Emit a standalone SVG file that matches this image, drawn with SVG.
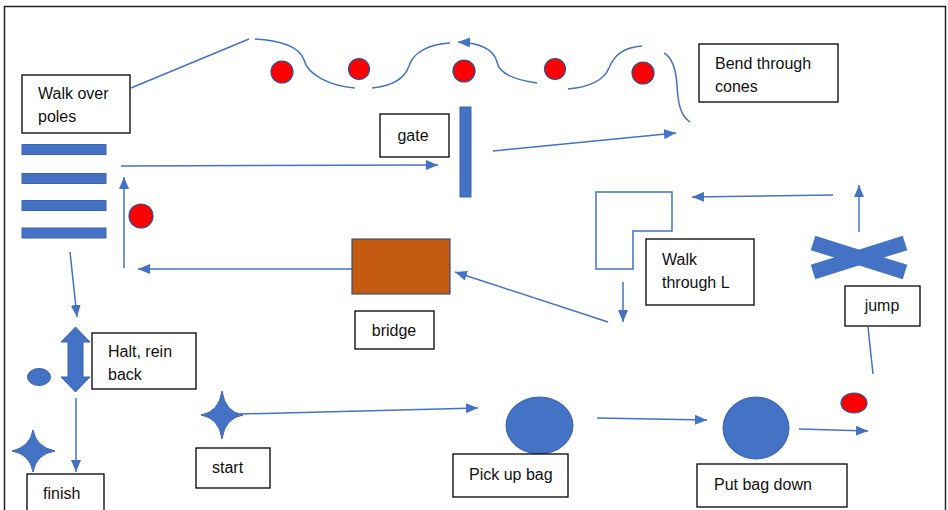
<svg xmlns="http://www.w3.org/2000/svg" width="948" height="510" viewBox="0 0 948 510">
<defs>
<style>
.bx{fill:#fff;stroke:#000;stroke-width:1.3}
.t{font-family:"Liberation Sans",Arial,sans-serif;font-size:16px;fill:#111}
.c{fill:none;stroke:#4472C4;stroke-width:1.5}
.sh{fill:#4472C4;stroke:#3A62AD;stroke-width:1}
.cone{fill:#FF0000;stroke:#2F528F;stroke-width:1.2}
</style>
<marker id="ah" viewBox="0 0 12 10" refX="12" refY="5" markerWidth="12" markerHeight="10" markerUnits="userSpaceOnUse" orient="auto">
<path d="M0,0 L12,5 L0,10 z" fill="#4472C4"/>
</marker>
</defs>
<rect x="0" y="0" width="948" height="510" fill="#fff"/>
<rect x="4.5" y="6.5" width="941" height="510" fill="none" stroke="#222" stroke-width="1.5"/>

<g id="connectors">
<line class="c" x1="131" y1="88" x2="249" y2="39"/>
<path class="c" d="M255,39 C280,40 300,47 304,60 C308,75 330,86 355,88"/>
<path class="c" d="M372,88 C392,86 405,78 409,66 C413,52 430,44 450,43"/>
<path class="c" d="M537,83 C515,80 499,73 497,62 C494,50 482,43 458,42" marker-end="url(#ah)"/>
<path class="c" d="M568,89 C590,87 604,80 609,68 C614,55 625,47 642,46"/>
<path class="c" d="M664,53 C673,58 676,70 677,85 C678,105 681,116 690,122"/>
<line class="c" x1="121" y1="166" x2="438" y2="165" marker-end="url(#ah)"/>
<line class="c" x1="493" y1="151" x2="676" y2="133" marker-end="url(#ah)"/>
<line class="c" x1="124" y1="268" x2="124" y2="177" marker-end="url(#ah)"/>
<line class="c" x1="352" y1="269" x2="138" y2="269" marker-end="url(#ah)"/>
<line class="c" x1="608" y1="322" x2="455" y2="272" marker-end="url(#ah)"/>
<line class="c" x1="623" y1="282" x2="623" y2="322" marker-end="url(#ah)"/>
<line class="c" x1="833" y1="195" x2="692" y2="197" marker-end="url(#ah)"/>
<line class="c" x1="859" y1="232" x2="859" y2="185" marker-end="url(#ah)"/>
<line class="c" x1="868" y1="327" x2="873" y2="374"/>
<line class="c" x1="799" y1="429" x2="868" y2="431" marker-end="url(#ah)"/>
<line class="c" x1="597" y1="418" x2="707" y2="420" marker-end="url(#ah)"/>
<line class="c" x1="240" y1="414" x2="478" y2="408" marker-end="url(#ah)"/>
<line class="c" x1="70" y1="252" x2="77" y2="317" marker-end="url(#ah)"/>
<line class="c" x1="76" y1="398" x2="76" y2="472" marker-end="url(#ah)"/>
</g>

<g id="poles">
<rect class="sh" x="22" y="144.5" width="84" height="10"/>
<rect class="sh" x="22" y="173.5" width="84" height="10"/>
<rect class="sh" x="22" y="200.5" width="84" height="10"/>
<rect class="sh" x="22" y="228" width="84" height="10"/>
</g>
<g id="walk-over-poles">
<rect class="bx" x="22" y="75" width="108" height="58"/>
<text class="t" x="38" y="99">Walk over</text>
<text class="t" x="38" y="122">poles</text>
</g>

<g id="cones">
<circle class="cone" cx="282" cy="72" r="11"/>
<circle class="cone" cx="359" cy="69" r="10.5"/>
<circle class="cone" cx="464" cy="71" r="11"/>
<circle class="cone" cx="555" cy="69" r="10.5"/>
<circle class="cone" cx="643" cy="73" r="11"/>
<circle class="cone" cx="141" cy="216" r="12"/>
<ellipse class="cone" cx="854" cy="403" rx="13" ry="10"/>
</g>
<g id="bend-through-cones">
<rect class="bx" x="699" y="44" width="139" height="58"/>
<text class="t" x="715" y="69">Bend through</text>
<text class="t" x="715" y="92">cones</text>
</g>

<g id="gate">
<rect class="sh" x="460" y="107" width="11" height="90"/>
<rect class="bx" x="380" y="114" width="69" height="43"/>
<text class="t" x="413" y="141" text-anchor="middle">gate</text>
</g>

<g id="bridge">
<rect x="352" y="239" width="98" height="55" fill="#C55A11" stroke="#2F528F" stroke-width="1.2"/>
<rect class="bx" x="355" y="311" width="79" height="38"/>
<text class="t" x="394" y="336" text-anchor="middle">bridge</text>
</g>

<g id="walk-through-l">
<path d="M596,192 H672 V231 H633 V269 H596 Z" fill="none" stroke="#4472C4" stroke-width="1.5"/>
<rect class="bx" x="646" y="239" width="108" height="66"/>
<text class="t" x="662" y="265">Walk</text>
<text class="t" x="662" y="288">through L</text>
</g>

<g id="jump">
<line x1="813" y1="243" x2="905" y2="272" stroke="#4472C4" stroke-width="15"/>
<line x1="813" y1="272" x2="905" y2="243" stroke="#4472C4" stroke-width="15"/>
<rect class="bx" x="845" y="286" width="75" height="40"/>
<text class="t" x="882" y="311" text-anchor="middle">jump</text>
</g>

<g id="put-bag-down">
<ellipse class="sh" cx="756" cy="428" rx="33" ry="31"/>
<rect class="bx" x="697" y="464" width="150" height="43"/>
<text class="t" x="714" y="490">Put bag down</text>
</g>

<g id="pick-up-bag">
<ellipse class="sh" cx="539.5" cy="425.5" rx="33.5" ry="28.5"/>
<rect class="bx" x="453" y="454" width="115" height="43"/>
<text class="t" x="469" y="480">Pick up bag</text>
</g>

<g id="start">
<path class="sh" d="M222,391 Q225,412 243,415 Q225,418 222,439 Q219,418 201,415 Q219,412 222,391 Z"/>
<rect class="bx" x="196" y="448" width="74" height="40"/>
<text class="t" x="212" y="473">start</text>
</g>

<g id="halt-rein-back">
<polygon class="sh" points="75.5,327 90,342 83,342 83,377 90,377 75.5,392 61,377 68,377 68,342 61,342"/>
<ellipse class="sh" cx="39" cy="377" rx="11.5" ry="8.5"/>
<rect class="bx" x="92" y="333" width="104" height="56"/>
<text class="t" x="108" y="357">Halt, rein</text>
<text class="t" x="108" y="380">back</text>
</g>

<g id="finish">
<path class="sh" d="M33,430 Q36,447 55,451 Q36,454 33,472 Q30,454 12,451 Q30,447 33,430 Z"/>
<rect class="bx" x="27" y="474" width="77" height="45"/>
<text class="t" x="43" y="499">finish</text>
</g>
</svg>
